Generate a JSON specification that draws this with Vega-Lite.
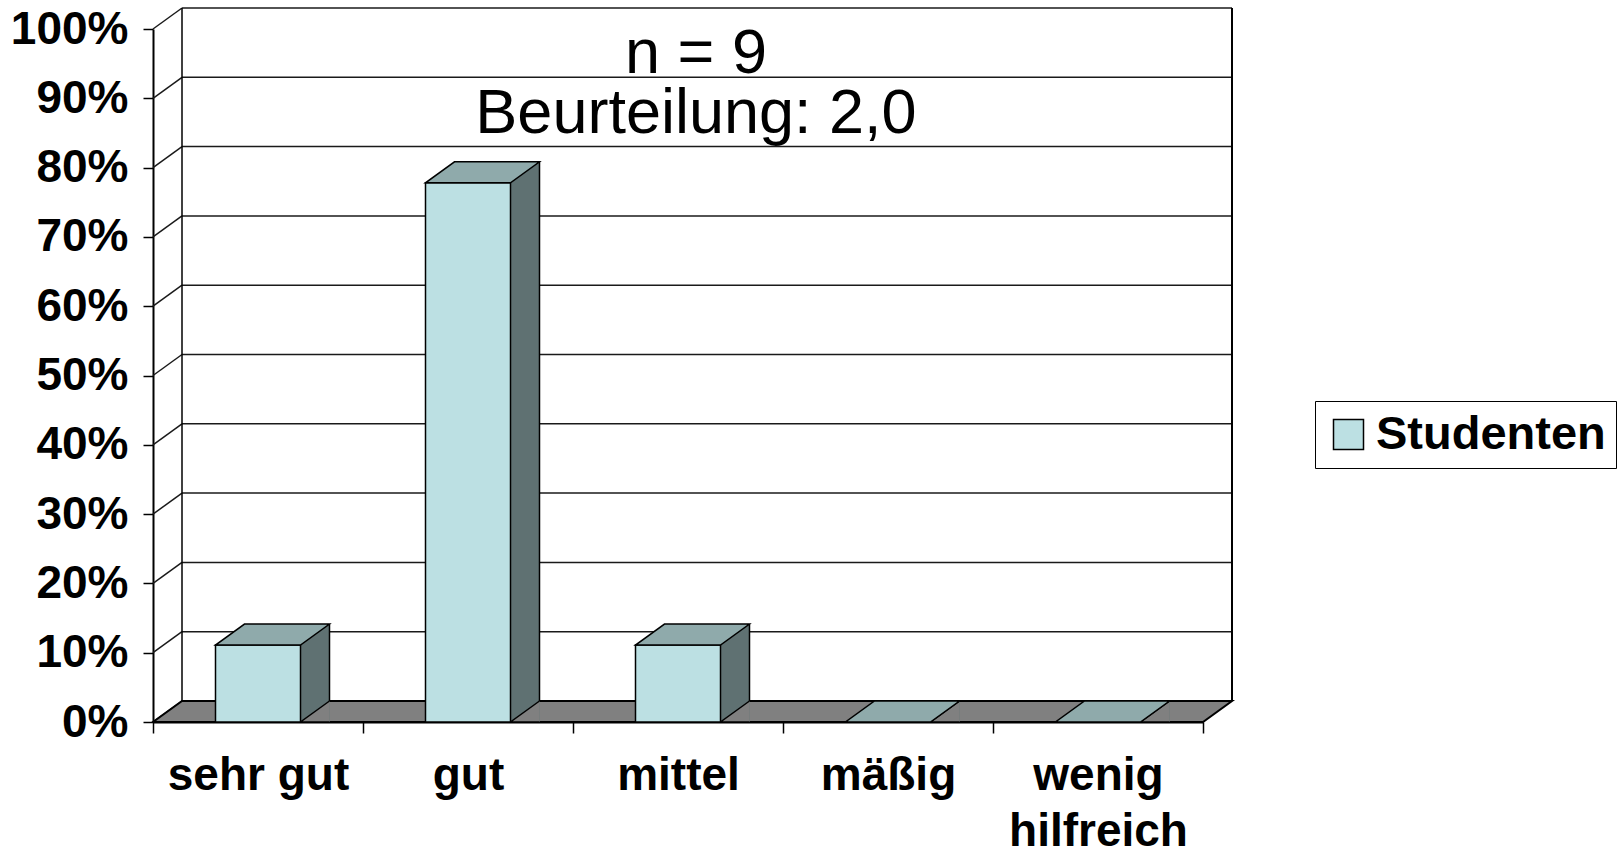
{
  "$schema": "https://vega.github.io/schema/vega-lite/v6.json",
  "autosize": {"type": "none"},
  "padding": {"left": 153, "top": 29, "right": 418, "bottom": 133},
  "width": 1050,
  "height": 693,
  "background": "white",
  "datasets": {
    "werte": [
      {"Kategorie": "sehr gut", "Anteil": 11.1, "Gruppe": "Studenten"},
      {"Kategorie": "gut", "Anteil": 77.8, "Gruppe": "Studenten"},
      {"Kategorie": "mittel", "Anteil": 11.1, "Gruppe": "Studenten"},
      {"Kategorie": "mäßig", "Anteil": 0, "Gruppe": "Studenten"},
      {"Kategorie": "wenig hilfreich", "Anteil": 0, "Gruppe": "Studenten"}
    ],
    "ticks": [
      {"t": 0}, {"t": 10}, {"t": 20}, {"t": 30}, {"t": 40}, {"t": 50},
      {"t": 60}, {"t": 70}, {"t": 80}, {"t": 90}, {"t": 100}
    ],
    "eins": [{"k": 1}]
  },
  "title": {
    "text": ["n = 9", "Beurteilung: 2,0"],
    "orient": "top",
    "anchor": "middle",
    "frame": "group",
    "offset": -190,
    "dx": 18,
    "font": "Liberation Sans",
    "fontSize": 63,
    "lineHeight": 60,
    "fontWeight": "normal",
    "color": "black",
    "baseline": "alphabetic"
  },
  "layer": [
    {
      "data": {"name": "ticks"},
      "mark": {"type": "rule", "color": "#1a1a1a", "strokeWidth": 1.5, "xOffset": 29, "x2Offset": 29, "yOffset": -21},
      "encoding": {
        "x": {"datum": "sehr gut", "type": "nominal", "bandPosition": 0},
        "x2": {"datum": "wenig hilfreich", "bandPosition": 1},
        "y": {"field": "t", "type": "quantitative", "title": null}
      }
    },
    {
      "data": {"name": "ticks"},
      "mark": {"type": "rule", "color": "#1a1a1a", "strokeWidth": 1.5, "xOffset": 0, "x2Offset": 29, "yOffset": 0, "y2Offset": -21},
      "encoding": {
        "x": {"datum": "sehr gut", "type": "nominal", "bandPosition": 0},
        "x2": {"datum": "sehr gut", "bandPosition": 0},
        "y": {"field": "t", "type": "quantitative", "title": null},
        "y2": {"field": "t"}
      }
    },
    {
      "data": {"name": "eins"},
      "mark": {"type": "rule", "color": "black", "strokeWidth": 1.5, "xOffset": 29, "yOffset": -21, "y2Offset": -21},
      "encoding": {
        "x": {"datum": "sehr gut", "type": "nominal", "bandPosition": 0},
        "y": {"datum": 100, "type": "quantitative"},
        "y2": {"datum": 0}
      }
    },
    {
      "data": {"name": "eins"},
      "mark": {"type": "rule", "color": "black", "strokeWidth": 2, "xOffset": 29, "yOffset": -21, "y2Offset": -21},
      "encoding": {
        "x": {"datum": "wenig hilfreich", "type": "nominal", "bandPosition": 1},
        "y": {"datum": 100, "type": "quantitative"},
        "y2": {"datum": 0}
      }
    },
    {
      "data": {"name": "eins"},
      "mark": {"type": "point", "shape": "M -525 0 L 525 0 L 554 -21 L -496 -21 Z", "size": 4, "filled": true, "fill": "#808080", "stroke": "black", "strokeWidth": 2, "opacity": 1},
      "encoding": {
        "x": {"datum": "mittel", "type": "nominal", "bandPosition": 0.5},
        "y": {"datum": 0, "type": "quantitative"}
      }
    },
    {
      "data": {"name": "werte"},
      "mark": {"type": "bar", "width": 29, "xOffset": 57, "yOffset": -21, "y2Offset": 0, "fill": "#5F7172", "strokeWidth": 0},
      "encoding": {
        "x": {"field": "Kategorie", "type": "nominal", "title": null},
        "y": {"field": "Anteil", "type": "quantitative", "title": null},
        "y2": {"datum": 0}
      }
    },
    {
      "data": {"name": "werte"},
      "mark": {"type": "point", "shape": "M 71.5 0 L 42.5 0 L 71.5 -21", "size": 4, "filled": true, "fill": "#808080", "stroke": "black", "strokeWidth": 1.5, "opacity": 1},
      "encoding": {
        "x": {"field": "Kategorie", "type": "nominal", "title": null},
        "y": {"datum": 0, "type": "quantitative"}
      }
    },
    {
      "data": {"name": "werte"},
      "mark": {"type": "bar", "width": 85, "stroke": "black", "strokeWidth": 1.5},
      "encoding": {
        "x": {
          "field": "Kategorie",
          "type": "nominal",
          "title": null,
          "scale": {"domain": ["sehr gut", "gut", "mittel", "mäßig", "wenig hilfreich"], "paddingInner": 0, "paddingOuter": 0},
          "axis": {
            "title": null,
            "labelExpr": "datum.label == 'wenig hilfreich' ? ['wenig', 'hilfreich'] : datum.label"
          }
        },
        "y": {
          "field": "Anteil",
          "type": "quantitative",
          "title": null,
          "scale": {"domain": [0, 100], "nice": false},
          "axis": {
            "title": null,
            "values": [0, 10, 20, 30, 40, 50, 60, 70, 80, 90, 100],
            "labelExpr": "datum.value + '%'"
          }
        },
        "color": {
          "field": "Gruppe",
          "type": "nominal",
          "scale": {"range": ["#BCE0E3"]},
          "legend": {
            "title": null,
            "orient": "none",
            "legendX": 1162,
            "legendY": 372,
            "padding": 10,
            "strokeColor": "black",
            "fillColor": "white",
            "symbolType": "square",
            "symbolSize": 900,
            "symbolStrokeColor": "black",
            "symbolStrokeWidth": 1.5,
            "symbolOpacity": 1,
            "labelFont": "Liberation Sans",
            "labelFontWeight": "bold",
            "labelFontSize": 47,
            "labelColor": "black",
            "labelOffset": 4,
            "labelLimit": 0
          }
        }
      }
    },
    {
      "data": {"name": "werte"},
      "mark": {"type": "point", "shape": "M -42.5 0 L 42.5 0 L 71.5 -21 L -13.5 -21 Z", "size": 4, "filled": true, "fill": "#8FAAAB", "stroke": "black", "strokeWidth": 1.5, "opacity": 1},
      "encoding": {
        "x": {"field": "Kategorie", "type": "nominal", "title": null},
        "y": {"field": "Anteil", "type": "quantitative", "title": null}
      }
    },
    {
      "data": {"name": "werte"},
      "mark": {"type": "rule", "color": "black", "strokeWidth": 1.5, "xOffset": 71.5, "yOffset": -21, "y2Offset": -21},
      "encoding": {
        "x": {"field": "Kategorie", "type": "nominal", "title": null, "bandPosition": 0.5},
        "y": {"field": "Anteil", "type": "quantitative", "title": null},
        "y2": {"datum": 0}
      }
    }
  ],
  "config": {
    "view": {"stroke": null},
    "axisX": {
      "tickBand": "extent",
      "tickSize": 11,
      "tickColor": "black",
      "tickWidth": 1.5,
      "domainColor": "black",
      "domainWidth": 2,
      "labelFont": "Liberation Sans",
      "labelFontWeight": "bold",
      "labelFontSize": 46,
      "labelColor": "black",
      "labelAngle": 0,
      "labelPadding": 20,
      "labelLineHeight": 56,
      "labelLimit": 0,
      "grid": false,
      "zindex": 1
    },
    "axisY": {
      "tickSize": 10,
      "tickColor": "black",
      "tickWidth": 1.5,
      "domainColor": "black",
      "domainWidth": 2,
      "labelFont": "Liberation Sans",
      "labelFontWeight": "bold",
      "labelFontSize": 46,
      "labelColor": "black",
      "labelPadding": 15,
      "labelLimit": 0,
      "grid": false,
      "zindex": 1
    }
  }
}
